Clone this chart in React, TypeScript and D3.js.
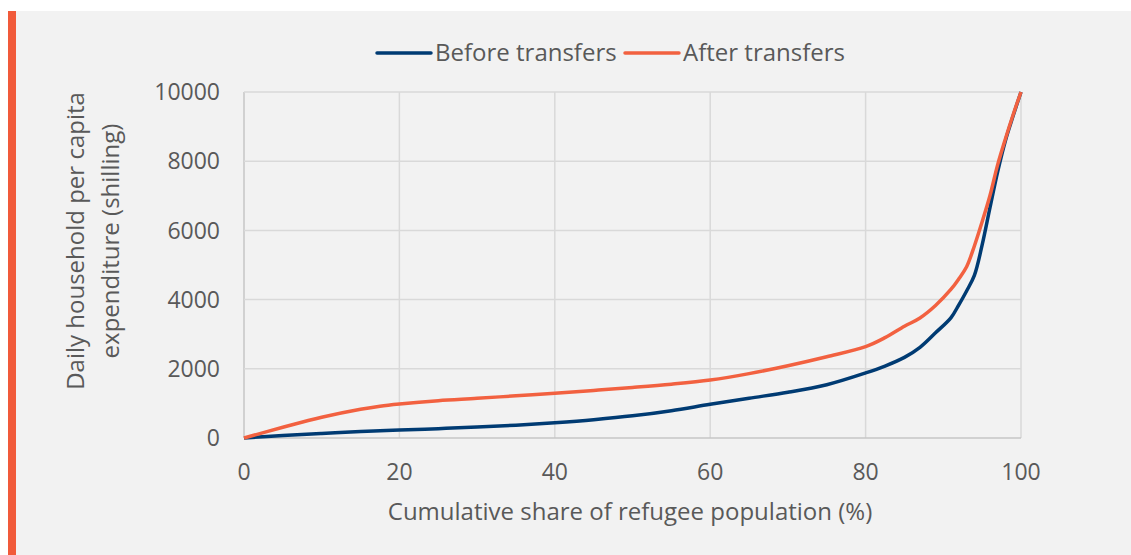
import React, { useEffect, useRef } from "react";
import * as d3 from "d3";

const shares = [0, 5, 10, 15, 17.5, 20, 25, 30, 35, 40, 45, 50, 55, 60, 65, 70, 75, 80, 82.5, 85, 87, 89, 91, 92, 93, 94, 95, 96, 97, 98, 99, 100];
const beforeTransfers = [0, 70, 130, 185, 210, 231, 270, 315, 370, 443, 530, 640, 790, 975, 1150, 1320, 1540, 1880, 2080, 2330, 2620, 3040, 3480, 3850, 4250, 4700, 5580, 6650, 7700, 8600, 9320, 10000];
const afterTransfers = [0, 310, 600, 830, 920, 983, 1080, 1146, 1220, 1292, 1375, 1460, 1555, 1676, 1860, 2090, 2350, 2640, 2900, 3230, 3470, 3830, 4300, 4600, 4950, 5550, 6250, 7000, 7900, 8650, 9350, 10000];
const xTicks = [0, 20, 40, 60, 80, 100];
const yTicks = [0, 2000, 4000, 6000, 8000, 10000];
const seriesNames = ["Before transfers", "After transfers"];
const seriesColors = ["#003b73", "#f26140"];

const W = 1131, H = 555;
const FONT = "'Open Sans', 'Noto Sans', sans-serif";
const FS_TICK = 23;
const FS = 24;
const TXT = "#595959";

export default function App() {
  const ref = useRef<SVGSVGElement>(null);
  useEffect(() => {
    const svg = d3.select(ref.current);
    svg.selectAll("*").remove();
    svg.append("rect").attr("x", 0).attr("y", 0).attr("width", W).attr("height", H).attr("fill", "#ffffff");
    svg.append("rect").attr("x", 16).attr("y", 11).attr("width", W - 16).attr("height", H - 11).attr("fill", "#f2f2f2");
    svg.append("rect").attr("x", 8).attr("y", 11).attr("width", 8).attr("height", H - 11).attr("fill", "#f15a3a");

    const x = d3.scaleLinear().domain([0, 100]).range([244, 1021]);
    const y = d3.scaleLinear().domain([0, 10000]).range([438, 92]);

    const g = svg.append("g");
    // grid
    xTicks.forEach((t) => {
      g.append("line").attr("x1", x(t)).attr("x2", x(t)).attr("y1", y(0)).attr("y2", y(10000))
        .attr("stroke", t === 0 ? "#c6c6c6" : "#d9d9d9").attr("stroke-width", 1.5);
    });
    yTicks.forEach((t) => {
      g.append("line").attr("x1", x(0)).attr("x2", x(100)).attr("y1", y(t)).attr("y2", y(t))
        .attr("stroke", t === 0 ? "#c6c6c6" : "#d9d9d9").attr("stroke-width", 1.5);
    });
    // tick labels
    yTicks.forEach((t) => {
      g.append("text").attr("x", 220).attr("y", y(t)).attr("dy", "0.36em").attr("text-anchor", "end")
        .attr("font-family", FONT).attr("font-size", FS_TICK).attr("fill", TXT).text(String(t));
    });
    xTicks.forEach((t) => {
      g.append("text").attr("x", x(t)).attr("y", 480).attr("text-anchor", "middle")
        .attr("font-family", FONT).attr("font-size", FS_TICK).attr("fill", TXT).text(String(t));
    });
    // axis titles
    g.append("text").attr("x", 630).attr("y", 520).attr("text-anchor", "middle")
      .attr("font-family", FONT).attr("font-size", FS).attr("fill", TXT)
      .text("Cumulative share of refugee population (%)");
    const yl = g.append("text").attr("transform", "translate(0,241) rotate(-90)").attr("text-anchor", "middle")
      .attr("font-family", FONT).attr("font-size", FS).attr("fill", TXT);
    yl.append("tspan").attr("x", 0).attr("y", 84).text("Daily household per capita");
    yl.append("tspan").attr("x", 0).attr("y", 119).text("expenditure (shilling)");

    // lines
    const line = d3.line<number>().x((_, i) => x(shares[i])).y((d) => y(d)).curve(d3.curveCatmullRom.alpha(0.5));
    [beforeTransfers, afterTransfers].forEach((s, i) => {
      g.append("path").attr("d", line(s) as string).attr("fill", "none")
        .attr("stroke", seriesColors[i]).attr("stroke-width", 3.5).attr("stroke-linejoin", "round");
    });

    // legend
    const legX = [377, 625];
    seriesNames.forEach((n, i) => {
      g.append("line").attr("x1", legX[i]).attr("x2", legX[i] + 54).attr("y1", 53).attr("y2", 53)
        .attr("stroke", seriesColors[i]).attr("stroke-width", 3.5).attr("stroke-linecap", "round");
      g.append("text").attr("x", legX[i] + 58).attr("y", 61).attr("font-family", FONT).attr("font-size", FS)
        .attr("fill", TXT).text(n);
    });
  }, []);
  return (
    <svg ref={ref} width={W} height={H} style={{ position: "absolute", left: 0, top: 0, display: "block" }} />
  );
}
